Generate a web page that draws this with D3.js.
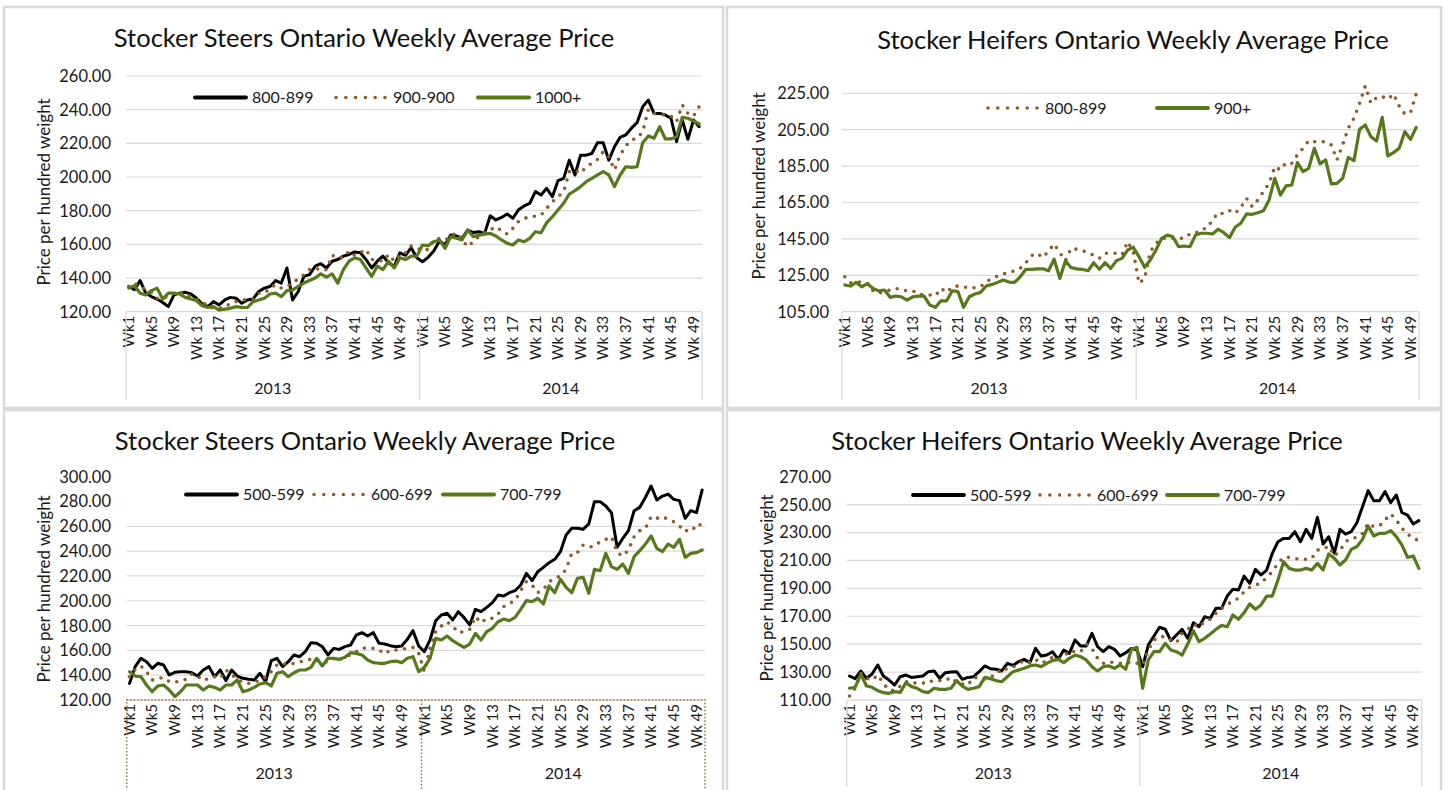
<!DOCTYPE html>
<html>
<head>
<meta charset="utf-8">
<script src="https://cdn.jsdelivr.net/npm/d3@7"></script>
<style>
  body { margin: 0; background: #fff; }
  text { font-family: Lato, "Open Sans", sans-serif; fill: #1a1a1a; }
</style>
</head>
<body>
<svg id="chart" width="1445" height="790"></svg>
<script>
// ---------- categories ----------
const years = ["2013", "2014"]
const weeksPerYear = [52, 50]
const tickWeeks = [1, 5, 9, 13, 17, 21, 25, 29, 33, 37, 41, 45, 49]
const tickLabels = ["Wk1", "Wk5", "Wk9", "Wk 13", "Wk 17", "Wk 21", "Wk 25", "Wk 29", "Wk 33", "Wk 37", "Wk 41", "Wk 45", "Wk 49"]

// ---------- Stocker Steers 800+ (top left) ----------
const steers800_899 = [
  135,133,138.5,131,129,127.5,125.5,123,130,131, 131.5,130.5,128,124.5,123,126,124,127,128.5,128,
  125,127,127.5,132,134,135,138.5,137,146,127, 132,141,142,147,148.5,146,150,151,153,154,
  155.5,155,151,146,150,153,149,147,155,153.5, 158,152,
  149.7,152.3,156,162,159.6,165.5,165,163.6,168.5,167, 167.5,166.5,177,174.5,176,178,175.5,180.5,182.8,184.4,
  191.3,189.3,193.3,188.3,197.8,199.2,210,201.2,213,213, 214,220.4,220.4,210,218,223.6,225,229,232.3,241.8,
  245.7,237.8,237.8,236.8,234.9,221,233.9,222.4,233.9,229.9]
const steers900_900 = [
  135,137,135,133,131.5,128,128,129,131,132, 130,129,127.5,126,123.5,122,122,122.5,125,126,
  127,127,127.5,131,131,134,136,134,135,137, 139.5,142,145,146,144.5,145,153.5,152,152,156,
  153.5,155,157,151,151,150,154,150,154,155, 159,158,
  156.2,157,162.6,163.6,162.6,164.6,167,163,158.6,161.6, 164.6,167,168.5,170.5,168.1,166.1,169.5,173.5,175.4,176.4,
  176.8,177.4,181.4,185.3,188.3,191.3,203.2,204.2,202.2,206.1, 208.1,210.5,215,212,204.2,213,218.4,222,223,226.9,
  240.2,237.8,237.4,236.8,236.2,232.9,242.8,237.8,236.2,241.8]
const steers1000 = [
  134,135.5,131,130,132.5,134,127.5,131,131,130.5, 128.5,127.5,126.5,123.5,122.5,123,121,121.5,122,123,
  122.5,122.5,126,127,128,130.5,131,129,132.5,133, 135,137,138.5,140,142.5,140.5,142.5,137,145,150,
  152,151,146,141,147,145,150,146,152,151, 153,153,
  159.6,159.2,161.6,162.6,157.6,164.6,163.6,162.6,168.5,164.6, 165.5,166.1,166.5,165,162.6,160.6,159.6,162.6,161.6,163.6,
  167.5,166.9,172.9,176.4,180.4,184.4,189.9,191.9,194.3,197.2, 199.2,201.2,203.2,201.2,194.3,201.2,206.1,205.7,206.1,220.4,
  224.4,223,229.9,222.6,222.6,224,235.4,234.9,233.3,231.5]

// ---------- Stocker Heifers 800+ (top right) ----------
const heifers800_899 = [
  124.2,120.9,121.1,121.5,120.6,116.5,115.1,116,116.9,117.8, 116.9,116.5,116.5,114.5,114.3,114.2,113.6,117.8,115.6,118.7,
  119.1,118.7,118,118.2,118.7,121.5,123.3,124.6,125.7,126.6, 127.4,128.8,131.9,135.8,137.1,134.7,138.3,142.2,137.4,133,
  139.8,139.3,138.5,137.4,136,134.3,137.1,137.1,137.1,136.2, 143.5,138,
  120.6,123.3,138,142.6,145.3,145.3,145.3,145.3,145.3,147.7, 148.1,150.3,150.8,155.4,159.4,158.7,160.5,159,162.3,167.3,
  162.7,166.4,171,175.5,184.7,182.9,186.9,186.5,191.1,194.8, 199,198.4,198.4,198.4,196.6,188.4,196.6,205.8,211.3,219.5,
  229,219.5,222.8,223.2,221.7,224.6,218,213.6,214.4,224.6]
const heifers900 = [
  119.7,119.1,121.1,118.7,120.4,117.8,116.4,116.9,112.9,113.6, 113.2,111.4,113.2,113.6,113.6,108.7,107.4,111,111,116.5,
  116,107.4,113.2,114.7,115.6,119.1,120,121.1,122.4,121.3, 121.1,124.2,128.3,128.3,128.5,128.6,127.5,133.8,123.3,133,
  129.2,128.5,128.3,127.5,131.9,128.3,131.9,128.8,133,134.3, 138.9,140.4,
  135.2,129.4,133.4,138.9,145.3,147.1,146.2,140.7,141.1,140.7, 147.1,148.1,148.1,147.7,150.3,148.4,145.7,151.4,153.6,158.7,
  158.5,159.4,160.5,166.4,178.3,169.1,174.1,174.6,186.9,182, 183.8,194.8,186.2,188.4,175.2,175.5,178.3,189.8,188,205.2,
  207.6,201.2,198.8,211.8,190.6,192.4,194.8,203.9,199.7,206.3]

// ---------- Stocker Steers 500-799 (bottom left) ----------
const steers500_599 = [
  133.4,146.9,153.6,150.9,145.5,149.6,148.2,140.2,142.3,142.8, 142.8,142,139.3,144.2,146.9,138.8,144.2,135.6,144.2,139.3,
  137.5,136.7,136.1,141.5,134.8,151.7,153.6,146.9,150.9,156.3, 154.9,159,166.2,165.7,163,156.3,161.6,160.8,163,164.3,
  172.4,174.3,171.6,174.3,165.7,165.1,163.8,163,163.5,168.9, 175.9,163.5,
  159,168.4,183.9,188.5,189.9,184.5,191.2,186.4,180.5,193.1, 191.2,194.7,198.5,204.6,203.8,206.5,208.1,212.7,222.1,216.2,
  223.4,226.9,230.7,233.4,239.6,253,258.4,258.4,257.6,261.9, 279.9,279.9,276.4,271,243.1,250.3,256.5,272.6,275.3,283.4,
  292.5,281.2,284.4,286,281.7,280.7,266.4,272.6,271,289.3]
const steers600_699 = [
  138.8,144.7,147.4,142.8,136.1,137.5,138,134.8,134.2,135.6, 136.7,141,139.3,135.6,137.5,138.8,137.5,144.2,140.2,137.5,
  134,133.4,134.2,136.1,138.3,142.8,148.2,149.6,148.2,149.6, 150.6,152.2,152.8,151.7,152.2,150.1,153.6,152.2,154.9,156.3,
  159,161.6,162.2,161.6,160.3,157.1,160.3,160.3,161.1,161.6, 162.4,157.6,
  142.8,161.6,175.1,179.6,182.9,179.6,174.3,175.1,177,187.2, 182.3,185.8,185.8,189.3,195.2,197.9,200.1,208.1,215.4,212.7,
  206.5,209.2,215.4,218.1,219.9,225.3,238.2,238.8,244.9,243.1, 244.1,247.6,249.5,251.6,238.8,236.1,240.9,251.6,256.5,258.4,
  267.8,266.4,267.8,265.6,263.7,260.2,255.7,259.2,257.6,263.7]
const steers700_799 = [
  142.8,139.3,138.8,132.1,126.7,131.3,132.1,128.1,122.7,126.7, 132.1,132.1,132.1,128.1,131.3,130.2,128.1,132.1,132.1,136.1,
  126.7,128.1,130.2,132.9,134,131.3,141.5,142.8,138.8,142, 144.2,144.2,146.3,153.6,147.4,153.6,153.6,152.8,154.4,158.2,
  157.6,156.3,152.2,150.1,149.6,149.6,150.9,151.4,150.1,153.6, 154.9,142.8,
  146.3,153.6,169.7,168.4,171.6,167.8,165.1,162.4,165.1,173.7, 168.4,175.1,177.8,183.1,185.3,183.9,186.6,193.1,200.1,199.3,
  201.9,197.4,211.9,206.5,217.3,210.8,206.5,218.1,218.9,206, 225.3,224.2,238.2,227.5,225.3,229.6,222.1,235.5,240.4,245.7,
  252.2,242.2,239.6,245.7,243.1,249.5,235,238.2,238.8,240.9]

// ---------- Stocker Heifers 500-799 (bottom right) ----------
const heifers500_599 = [
  127.2,125.3,130.8,125.5,128.6,135.1,127.2,124.3,120.7,126.7, 127.9,126.2,126.7,127.2,130.3,130.8,125.5,129.6,130.1,130.3,
  124.8,126.2,126.7,130.3,134.4,132.4,132,130.8,136.3,134.8, 137.5,139.1,136.7,147,141.5,142.2,144.6,139.1,145.8,143.4,
  153,148.7,148.7,157.8,148.2,144.6,148.2,146.3,141.5,143.9, 147,145.8,
  133.9,149.4,155.9,162.1,160.7,152.5,156.6,160.7,154.2,165.4, 162.5,169.7,168.5,175.7,175.7,184.5,189.3,188.8,198.8,193.6,
  203.6,199.6,203.1,215.1,223.4,225.8,225.8,230.6,223.4,232.3, 225.8,240.9,221.8,227,215.1,232.3,228.9,230.6,237,248.5,
  260,252.8,252.8,259.3,251.4,256.9,244.2,242.5,236.1,238.5]
const heifers600_699 = [
  112.9,118.4,129.1,125.5,124.3,127.9,121.9,117.2,116.7,120, 123.1,121.9,122.4,121.9,123.9,123.1,123.9,123.9,126.2,122.7,
  121.5,120.7,126.2,125.5,124.8,126.7,127.9,132.7,132,133.4, 136.3,138.2,136.7,139.1,136.3,138.2,140.6,139.1,141,145.3,
  144.6,144.6,150.1,147,139.9,136.3,137.5,136.7,136.3,136.3, 137.5,136.3,
  135.1,145.8,153,155.4,155.4,153,151.1,157.8,160.6,164.4, 162.5,166.1,167.8,172.1,175.7,178.1,181.2,182.8,187.6,190.7,
  192.4,193.6,197.9,201.9,207.9,212.2,212.2,211.5,210.8,210.8, 211.5,217.5,217.9,220.3,213.2,217,223.4,225.8,226.5,229.4,
  236.6,234.2,234.7,239,243.3,239,233,228.9,225.8,224.2]
const heifers700_799 = [
  118.4,119.1,128.6,120,119.1,116.7,115.3,114.8,116,115.5, 122.4,119.6,118.4,116,115.3,118.4,117.6,117.6,118.4,123.9,
  120,117.6,118.4,119.6,126.2,125.3,123.9,123.1,126.7,130.3, 131.5,132.7,134.4,135.1,133.9,136.3,138.2,139.1,136.7,139.9,
  142.2,141,138.7,133.9,130.8,133.9,134.4,132.7,135.1,132, 146.3,147.7,
  118.4,138.7,144.6,144.6,150.6,145.8,144.6,142.2,150.1,159.7, 151.8,154.2,157.3,160.6,163.5,162.5,170.9,167.8,172.6,178.8,
  175,178.1,184.5,184.5,196,209.1,204.3,203.1,203.1,204.3, 203.1,207.9,203.1,214.6,211.5,206.7,210.3,217.9,219.9,225.1,
  234.7,227.5,229.4,229.4,231.3,227,221,212.2,213.2,204.3]

/* ______________________________ set-up ______________________________ */
const categories = []
years.forEach(function (yr, k) {
  for (let w = 1; w <= weeksPerYear[k]; w++) categories.push(yr + "-" + w)
})

const styles = {
  black: { stroke: "#000000", width: 3, dash: null },
  brown: { stroke: "#8e5c27", width: 3.6, dash: "0,8.6" },
  green: { stroke: "#58791a", width: 3.2, dash: null }
}
const gridColor = "#d9d9d9"

const svg = d3.select("#chart")

const panels = [
  {
    frame: [4, 7, 723, 408], l: 126, r: 702, t: 76, b: 311.7,
    yDomain: [120, 260], yStep: 20, gridMax: 260,
    title: "Stocker Steers Ontario Weekly Average Price", titleX: 364, titleY: 47,
    yTitleX: 44, yTitleY: 192, yLabelX: 111, sepBottom: 400, yearY: 394,
    legendY: 97.5,
    series: [
      { name: "800-899", values: steers800_899, style: "black", lx: 195 },
      { name: "900-900", values: steers900_900, style: "brown", lx: 336 },
      { name: "1000+", values: steers1000, style: "green", lx: 478 }
    ]
  },
  {
    frame: [727, 7, 1441, 408], l: 842, r: 1419, t: 93.3, b: 311.7,
    yDomain: [105, 225], yStep: 20, gridMax: 225,
    title: "Stocker Heifers Ontario Weekly Average Price", titleX: 1133, titleY: 49,
    yTitleX: 759, yTitleY: 186, yLabelX: 829, sepBottom: 400, yearY: 394,
    legendY: 108,
    series: [
      { name: "800-899", values: heifers800_899, style: "brown", lx: 988 },
      { name: "900+", values: heifers900, style: "green", lx: 1157 }
    ]
  },
  {
    frame: [4, 410, 723, 800], l: 126.7, r: 705, t: 476.7, b: 700,
    yDomain: [120, 300], yStep: 20, gridMax: 260,
    title: "Stocker Steers Ontario Weekly Average Price", titleX: 365, titleY: 450,
    yTitleX: 44, yTitleY: 589, yLabelX: 111, sepBottom: 792, yearY: 779,
    legendY: 494.5, dottedBox: true,
    series: [
      { name: "500-599", values: steers500_599, style: "black", lx: 186 },
      { name: "600-699", values: steers600_699, style: "brown", lx: 314 },
      { name: "700-799", values: steers700_799, style: "green", lx: 443 }
    ]
  },
  {
    frame: [727, 410, 1441, 800], l: 846.7, r: 1421.7, t: 476.7, b: 700,
    yDomain: [110, 270], yStep: 20, gridMax: 250,
    title: "Stocker Heifers Ontario Weekly Average Price", titleX: 1087, titleY: 450,
    yTitleX: 767, yTitleY: 588, yLabelX: 831, sepBottom: 786, yearY: 779,
    legendY: 495,
    series: [
      { name: "500-599", values: heifers500_599, style: "black", lx: 913 },
      { name: "600-699", values: heifers600_699, style: "brown", lx: 1040 },
      { name: "700-799", values: heifers700_799, style: "green", lx: 1167 }
    ]
  }
]

/* ______________________________ draw one panel ______________________________ */
function drawPanel(p) {
  const g = svg.append("g")

  // chart frame
  g.append("rect")
    .attr("x", p.frame[0]).attr("y", p.frame[1])
    .attr("width", p.frame[2] - p.frame[0]).attr("height", p.frame[3] - p.frame[1])
    .attr("fill", "#fff").attr("stroke", gridColor).attr("stroke-width", 2.5)

  const x = d3.scaleBand().domain(categories).range([p.l, p.r])
  const y = d3.scaleLinear().domain(p.yDomain).range([p.b, p.t])
  const cx = function (c) { return x(c) + x.bandwidth() / 2 }

  const ticks = d3.range(p.yDomain[0], p.yDomain[1] + 0.01, p.yStep)

  // gridlines
  g.selectAll("line.grid")
    .data(ticks.filter(function (t) { return t > p.yDomain[0] && t <= p.gridMax }))
    .enter().append("line")
    .attr("class", "grid")
    .attr("x1", p.l).attr("x2", p.r)
    .attr("y1", function (d) { return y(d) }).attr("y2", function (d) { return y(d) })
    .attr("stroke", gridColor).attr("stroke-width", 1.2)

  // category axis line
  g.append("line")
    .attr("x1", p.l).attr("x2", p.r).attr("y1", p.b).attr("y2", p.b)
    .attr("stroke", gridColor).attr("stroke-width", 1.3)

  // y tick labels
  g.selectAll("text.ytick")
    .data(ticks)
    .enter().append("text")
    .attr("class", "ytick")
    .attr("x", p.yLabelX)
    .attr("y", function (d) { return y(d) })
    .attr("dy", "0.36em")
    .attr("text-anchor", "end")
    .style("font-size", "16.5px")
    .text(function (d) { return d3.format(".2f")(d) })

  // y axis title
  g.append("text")
    .attr("transform", "translate(" + p.yTitleX + "," + p.yTitleY + ") rotate(-90)")
    .attr("text-anchor", "middle")
    .attr("dy", "0.35em")
    .style("font-size", "17px")
    .text("Price per hundred weight")

  // title
  g.append("text")
    .attr("x", p.titleX).attr("y", p.titleY)
    .attr("text-anchor", "middle")
    .style("font-size", "25.5px")
    .style("fill", "#111")
    .text(p.title)

  // week labels + year labels + separators
  years.forEach(function (yr, k) {
    g.selectAll("text.wk" + yr)
      .data(tickWeeks)
      .enter().append("text")
      .attr("class", "wk" + yr)
      .attr("text-anchor", "end")
      .attr("dy", "0.35em")
      .attr("transform", function (w) {
        return "translate(" + cx(yr + "-" + w) + "," + (p.b + 4) + ") rotate(-90)"
      })
      .style("font-size", "15px")
      .text(function (w, i) { return tickLabels[i] })

    const first = x(yr + "-1")
    const last = x(yr + "-" + weeksPerYear[k]) + x.bandwidth()
    g.append("text")
      .attr("x", (first + last) / 2).attr("y", p.yearY)
      .attr("text-anchor", "middle")
      .style("font-size", "16px")
      .text(yr)
  })

  const seps = [p.l, x(years[1] + "-1"), p.r]
  if (!p.dottedBox) {
    g.selectAll("line.sep")
      .data(seps)
      .enter().append("line")
      .attr("x1", function (d) { return d }).attr("x2", function (d) { return d })
      .attr("y1", p.b).attr("y2", p.sepBottom)
      .attr("stroke", gridColor).attr("stroke-width", 1.3)
  } else {
    // selection box left around the category axis in the original
    g.append("rect")
      .attr("x", p.l).attr("y", p.b)
      .attr("width", p.r - p.l).attr("height", p.sepBottom - p.b)
      .attr("fill", "none").attr("stroke", "#a0702e")
      .attr("stroke-width", 1.5).attr("stroke-dasharray", "1.5,2")
    g.append("line")
      .attr("x1", seps[1]).attr("x2", seps[1])
      .attr("y1", p.b).attr("y2", p.sepBottom)
      .attr("stroke", "#a0702e").attr("stroke-width", 1.5).attr("stroke-dasharray", "1.5,2")
  }

  // series lines
  const line = d3.line()
    .x(function (d, i) { return cx(categories[i]) })
    .y(function (d) { return y(d) })

  p.series.forEach(function (s) {
    const st = styles[s.style]
    g.append("path")
      .datum(s.values)
      .attr("d", line)
      .attr("fill", "none")
      .attr("stroke", st.stroke)
      .attr("stroke-width", st.width)
      .attr("stroke-linejoin", "round")
      .attr("stroke-linecap", "round")
      .attr("stroke-dasharray", st.dash)

    // legend entry
    g.append("line")
      .attr("x1", s.lx).attr("x2", s.lx + 51)
      .attr("y1", p.legendY).attr("y2", p.legendY)
      .attr("stroke", st.stroke)
      .attr("stroke-width", st.dash ? st.width : st.width + 0.8)
      .attr("stroke-linecap", "round")
      .attr("stroke-dasharray", st.dash ? "0,9.8" : null)
    g.append("text")
      .attr("x", s.lx + 57).attr("y", p.legendY)
      .attr("dy", "0.35em")
      .style("font-size", "16px")
      .text(s.name)
  })
}

panels.forEach(drawPanel)
</script>
</body>
</html>
